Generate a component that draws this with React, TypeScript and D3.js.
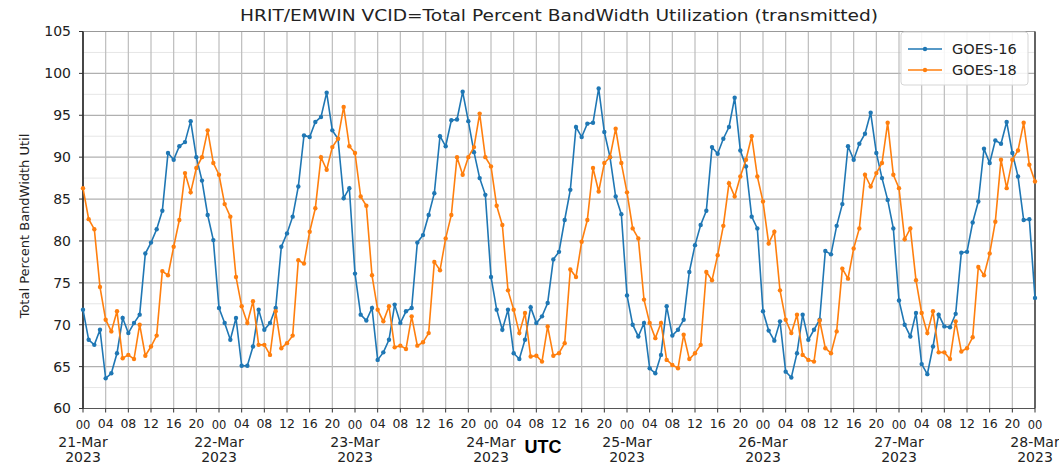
import React from "react";
import * as d3 from "d3";

// hourly samples, 21-Mar 00Z .. 28-Mar 00Z
const goes16 = [
  71.8, 68.2, 67.6, 69.4, 63.6, 64.2, 66.6, 70.8, 69.0, 70.2, 71.2, 78.5, 79.8, 81.4, 83.6, 90.5, 89.7, 91.3, 91.8, 94.3, 90.0, 87.2, 83.1, 80.1,
  72.0, 70.2, 68.2, 70.8, 65.1, 65.1, 67.4, 71.8, 69.4, 70.2, 72.0, 79.3, 80.9, 82.9, 86.5, 92.6, 92.4, 94.2, 94.8, 97.7, 93.2, 92.2, 85.1, 86.3,
  76.1, 71.2, 70.5, 72.0, 65.8, 66.7, 68.2, 72.4, 70.2, 71.6, 72.0, 79.8, 80.7, 83.1, 85.7, 92.5, 91.3, 94.4, 94.5, 97.8, 94.3, 90.6, 87.5, 85.5,
  75.7, 71.8, 69.4, 71.8, 66.6, 65.9, 68.2, 72.1, 70.2, 71.0, 72.6, 77.8, 78.7, 82.5, 86.1, 93.6, 92.4, 94.0, 94.1, 98.2, 93.0, 90.0, 85.3, 83.2,
  73.5, 70.0, 68.6, 70.2, 64.8, 64.2, 66.4, 72.2, 68.7, 69.4, 70.6, 76.3, 79.5, 81.9, 83.6, 91.2, 90.4, 92.2, 93.6, 97.1, 90.8, 88.9, 82.9, 81.5,
  71.6, 69.3, 68.1, 70.4, 64.4, 63.7, 66.6, 71.2, 68.2, 69.4, 70.6, 78.8, 78.4, 81.8, 84.4, 91.3, 89.7, 91.6, 92.8, 95.3, 90.5, 87.5, 84.9, 81.5,
  72.9, 70.0, 68.6, 71.4, 65.3, 64.1, 67.4, 71.2, 69.8, 69.7, 71.3, 78.6, 78.7, 82.2, 84.7, 91.0, 89.3, 92.0, 91.6, 94.2, 90.5, 87.7, 82.5, 82.6,
  73.2,
];

const goes18 = [
  86.3, 82.6, 81.4, 74.5, 70.6, 69.2, 71.6, 66.0, 66.4, 65.9, 70.0, 66.3, 67.4, 68.7, 76.4, 75.9, 79.3, 82.5, 88.1, 85.8, 88.7, 90.0, 93.2, 89.3,
  87.9, 84.4, 82.9, 75.7, 72.2, 70.2, 72.8, 67.6, 67.6, 66.4, 71.6, 67.2, 67.8, 68.7, 77.7, 77.3, 81.1, 83.9, 90.0, 88.5, 91.2, 92.2, 96.0, 91.3,
  90.5, 85.3, 84.2, 75.9, 71.8, 70.4, 72.2, 67.3, 67.5, 67.1, 71.0, 67.5, 67.9, 69.0, 77.5, 76.5, 80.3, 83.1, 90.0, 87.9, 90.0, 91.2, 95.2, 90.0,
  88.9, 84.2, 81.9, 74.1, 71.8, 69.0, 71.4, 66.2, 66.3, 65.6, 69.8, 66.3, 66.6, 67.8, 76.6, 75.7, 79.9, 82.5, 88.7, 85.9, 89.3, 90.0, 93.4, 89.3,
  85.8, 81.5, 80.3, 73.0, 70.2, 68.4, 70.2, 65.8, 65.2, 64.8, 68.8, 65.9, 66.6, 67.6, 76.3, 75.3, 78.3, 81.8, 86.9, 85.3, 87.7, 89.7, 92.5, 87.7,
  84.7, 79.7, 81.1, 74.1, 70.6, 69.0, 71.2, 66.4, 65.8, 65.6, 70.5, 67.2, 66.6, 69.2, 76.7, 75.5, 79.1, 81.5, 87.9, 86.5, 88.1, 89.3, 94.1, 87.9,
  86.3, 80.2, 81.5, 75.3, 71.4, 69.0, 71.6, 66.7, 66.7, 65.9, 70.4, 66.8, 67.2, 68.5, 76.9, 75.9, 78.5, 82.3, 89.7, 86.3, 89.7, 90.8, 94.1, 89.1,
  87.1,
];

const seriesNames = ["GOES-16", "GOES-18"];
const seriesColors = ["#1f77b4", "#ff7f0e"];
const yTicks = [60, 65, 70, 75, 80, 85, 90, 95, 100, 105];
const yMinorTicks = [62.5, 67.5, 72.5, 77.5, 82.5, 87.5, 92.5, 97.5, 102.5];
const yearLabel = "2023";

const title = "HRIT/EMWIN VCID=Total Percent BandWidth Utilization (transmitted)";
const yLabel = "Total Percent BandWidth Util";
const xLabel = "UTC";

const width = 1059;
const height = 464;
const plot = { left: 83, right: 1035, top: 31.5, bottom: 408.5 };
const font = "DejaVu Sans, sans-serif";

export default function App() {
  const start = Date.UTC(2023, 2, 21);
  const end = Date.UTC(2023, 2, 28);
  const time = (i: number) => new Date(start + i * 3600e3);

  const x = d3.scaleUtc().domain([new Date(start), new Date(end)]).range([plot.left, plot.right]);
  const y = d3.scaleLinear().domain([60, 105]).range([plot.bottom, plot.top]);

  const xTicks = x.ticks(d3.utcHour.every(4)!);
  const fmtHour = d3.utcFormat("%H");
  const fmtDay = d3.utcFormat("%d-%b");

  const line = d3.line<number>().x((d, i) => x(time(i))).y(d => y(d));
  const series = [goes16, goes18];

  return (
    <svg width={width} height={height} style={{ position: "absolute", left: 0, top: 0, background: "#fff" }}>
      {/* grid */}
      <g>
        {yMinorTicks.map(t => (
          <line key={"ym" + t} x1={plot.left} x2={plot.right} y1={y(t)} y2={y(t)} stroke="#e6e6e6" strokeWidth={1} />
        ))}
        {yTicks.map(t => (
          <line key={"y" + t} x1={plot.left} x2={plot.right} y1={y(t)} y2={y(t)} stroke="#b0b0b0" strokeWidth={1.2} />
        ))}
        {xTicks.map(t => (
          <line key={"x" + t.getTime()} x1={x(t)} x2={x(t)} y1={plot.top} y2={plot.bottom} stroke="#bdbdbd" strokeWidth={1.2} />
        ))}
      </g>

      {/* frame */}
      <line x1={plot.left} x2={plot.right} y1={plot.top} y2={plot.top} stroke="#999" strokeWidth={1} />
      <line x1={plot.left} x2={plot.right} y1={plot.bottom} y2={plot.bottom} stroke="#555" strokeWidth={1.2} />
      <line x1={plot.left} x2={plot.left} y1={plot.top} y2={plot.bottom} stroke="#222" strokeWidth={1.6} />
      <line x1={plot.right} x2={plot.right} y1={plot.top} y2={plot.bottom} stroke="#333" strokeWidth={1.4} />

      {/* y axis */}
      <g fontFamily={font} fontSize={14} fill="#222">
        {yTicks.map(t => (
          <g key={"yt" + t}>
            <line x1={plot.left - 4} x2={plot.left} y1={y(t)} y2={y(t)} stroke="#333" />
            <text x={plot.left - 12} y={y(t)} dy="0.35em" textAnchor="end">{t}</text>
          </g>
        ))}
      </g>
      <text transform={`translate(29,${(plot.top + plot.bottom) / 2 + 6}) rotate(-90)`} textAnchor="middle"
        fontFamily={font} fontSize={13} fill="#222">{yLabel}</text>

      {/* x axis */}
      <g fontFamily={font} fontSize={14} fill="#222">
        {xTicks.map(t => {
          const major = t.getUTCHours() === 0;
          return (
            <g key={"xt" + t.getTime()}>
              <line x1={x(t)} x2={x(t)} y1={plot.bottom} y2={plot.bottom + 4} stroke="#333" />
              <text x={x(t)} y={plot.bottom + (major ? 20 : 19)} textAnchor="middle" fontSize={major ? 11.5 : 12.5}>{fmtHour(t)}</text>
              {major && (
                <>
                  <text x={x(t)} y={plot.bottom + 38} textAnchor="middle">{fmtDay(t)}</text>
                  <text x={x(t)} y={plot.bottom + 53.5} textAnchor="middle">{yearLabel}</text>
                </>
              )}
            </g>
          );
        })}
      </g>
      <text x={543} y={453} textAnchor="middle" fontFamily="Liberation Sans, Arial, sans-serif"
        fontWeight="bold" fontSize={18} fill="#000">{xLabel}</text>

      {/* title */}
      <text x={559} y={21} textAnchor="middle" fontFamily={font} fontSize={16.5} fill="#222"
        textLength={638} lengthAdjust="spacingAndGlyphs">{title}</text>

      {/* series */}
      {series.map((s, k) => (
        <g key={seriesNames[k]}>
          <path d={line(s) || ""} fill="none" stroke={seriesColors[k]} strokeWidth={1.6} />
          {s.map((v, i) => (
            <circle key={i} cx={x(time(i))} cy={y(v)} r={2.2} fill={seriesColors[k]} />
          ))}
        </g>
      ))}

      {/* legend */}
      <g fontFamily={font} fontSize={14.5} fill="#222">
        <rect x={901} y={32} width={127} height={53} rx={3} fill="#fff" fillOpacity={0.85} stroke="#d5d5d5" />
        {seriesNames.map((n, k) => (
          <g key={"lg" + n} transform={`translate(0,${49 + k * 21})`}>
            <line x1={908} x2={942} y1={0} y2={0} stroke={seriesColors[k]} strokeWidth={1.6} />
            <circle cx={925} cy={0} r={2.2} fill={seriesColors[k]} />
            <text x={952} y={0} dy="0.35em">{n}</text>
          </g>
        ))}
      </g>
    </svg>
  );
}
